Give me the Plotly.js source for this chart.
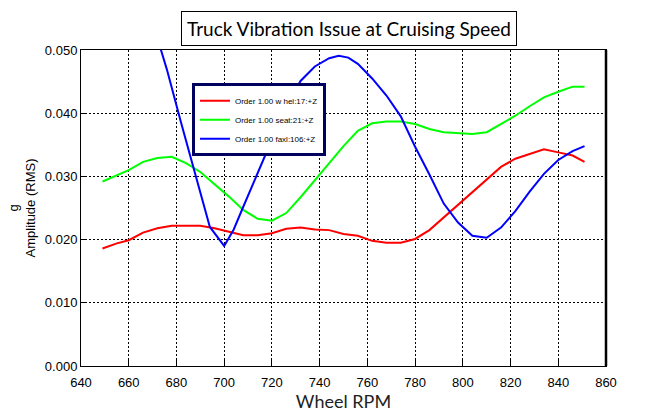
<!DOCTYPE html>
<html>
<head>
<meta charset="utf-8">
<script src="https://cdn.plot.ly/plotly-3.0.1.min.js"></script>
<style>html,body{margin:0;padding:0;background:#fff;}#chart{width:670px;height:420px;}</style>
</head>
<body>
<div id="chart"></div>
<script>
// Wheel RPM sample points
var rpm = [649, 655, 660, 666, 672, 678, 684, 690, 696, 702, 708, 714, 720, 726, 732, 738, 744, 750,
           756, 762, 768, 774, 780, 786, 792, 798, 804, 810, 816, 822, 828, 834, 840, 846, 851];
// Order 1.00 wheel:17:+Z  (g RMS)
var wheel = [0.0186, 0.0194, 0.0199, 0.0211, 0.0218, 0.0222, 0.0222, 0.0222, 0.0218, 0.0213, 0.0207, 0.0207,
             0.0210, 0.0217, 0.0219, 0.0216, 0.0215, 0.0209, 0.0206, 0.0198, 0.0195, 0.0195, 0.0201, 0.0215,
             0.0235, 0.0256, 0.0275, 0.0295, 0.0315, 0.0328, 0.0336, 0.0343, 0.0338, 0.0333, 0.0323];
// Order 1.00 seat:21:+Z
var seat = [0.0292, 0.0302, 0.0310, 0.0323, 0.0329, 0.0331, 0.0321, 0.0307, 0.0288, 0.0268, 0.0247, 0.0233,
            0.0230, 0.0242, 0.0267, 0.0294, 0.0320, 0.0348, 0.0372, 0.0384, 0.0387, 0.0387, 0.0383, 0.0375,
            0.0370, 0.0368, 0.0367, 0.0370, 0.0383, 0.0396, 0.0411, 0.0425, 0.0434, 0.0442, 0.0442];
// Order 1.00 faxl:106:+Z
var axleRpm = [670, 676, 682, 688, 694, 700, 704, 708, 714, 720, 726, 732, 738, 744, 748, 752, 756, 762, 768,
               774, 780, 786, 792, 798, 804, 810, 816, 822, 828, 834, 840, 846, 851];
var axle = [0.0544, 0.0469, 0.0384, 0.0302, 0.0220, 0.0190, 0.0216, 0.0252, 0.0306, 0.0359, 0.0411, 0.0451,
            0.0474, 0.0487, 0.0491, 0.0488, 0.0478, 0.0455, 0.0428, 0.0395, 0.0347, 0.0303, 0.0257, 0.0227, 0.0206,
            0.0203, 0.0219, 0.0245, 0.0276, 0.0304, 0.0326, 0.0340, 0.0348];
var seriesNames = ['Order 1.00 w hel:17:+Z', 'Order 1.00 seat:21:+Z', 'Order 1.00 faxl:106:+Z'];
var xTicks = [640, 660, 680, 700, 720, 740, 760, 780, 800, 820, 840, 860];
var yTicks = [0.000, 0.010, 0.020, 0.030, 0.040, 0.050];

var tickFont = {family: 'Liberation Sans, Arial, sans-serif', size: 13, color: '#000'};
var traces = [
  {x: rpm, y: wheel, name: seriesNames[0], mode: 'lines', line: {color: '#ff0000', width: 2}},
  {x: rpm, y: seat, name: seriesNames[1], mode: 'lines', line: {color: '#00ff00', width: 2}},
  {x: axleRpm, y: axle, name: seriesNames[2], mode: 'lines', line: {color: '#0000ff', width: 2}}
];
var layout = {
  width: 670, height: 420,
  margin: {l: 81, r: 64, t: 50, b: 54},
  paper_bgcolor: '#fff', plot_bgcolor: '#fff',
  showlegend: true,
  legend: {
    x: 0.2114, y: 0.895, xanchor: 'left', yanchor: 'top',
    bgcolor: '#fff', bordercolor: '#000060', borderwidth: 3,
    font: {family: 'Liberation Sans, Arial, sans-serif', size: 8, color: '#000'},
    itemwidth: 30, tracegroupgap: 0
  },
  xaxis: {
    range: [640, 860], tickvals: xTicks, ticktext: xTicks.map(String),
    ticks: 'inside', ticklen: 6, tickcolor: '#000', tickwidth: 1,
    showline: true, linecolor: '#000', linewidth: 1, mirror: true,
    showgrid: true, gridcolor: '#000', gridwidth: 1, griddash: '2px,2px',
    zeroline: false, tickfont: tickFont, ticklabelstandoff: 4,
    title: {text: 'Wheel RPM', font: {family: 'Lato, Open Sans, sans-serif', size: 18, color: '#222'}, standoff: 4}
  },
  yaxis: {
    range: [0, 0.050], tickvals: yTicks, tickformat: '.3f',
    ticks: 'inside', ticklen: 6, tickcolor: '#000', tickwidth: 1,
    showline: true, linecolor: '#000', linewidth: 1, mirror: true,
    showgrid: true, gridcolor: '#000', gridwidth: 1, griddash: '2px,2px',
    zeroline: false, tickfont: tickFont,
    title: {text: 'g<br>Amplitude (RMS)', font: {family: 'Liberation Sans, Arial, sans-serif', size: 13, color: '#000'}, standoff: 6}
  },
  shapes: [{type: 'line', xref: 'paper', yref: 'paper', x0: 1, x1: 1, y0: 0, y1: 1,
            line: {color: '#000', width: 2.5}}],
  annotations: [{
    xref: 'paper', yref: 'paper', x: 0.5105, y: 1.0696, xanchor: 'center', yanchor: 'middle',
    text: 'Truck Vibration Issue at Cruising Speed', showarrow: false,
    font: {family: 'Lato, Open Sans, sans-serif', size: 19, color: '#000'},
    bordercolor: '#000', borderwidth: 1, borderpad: 5, bgcolor: '#fff'
  }]
};
Plotly.newPlot('chart', traces, layout, {displayModeBar: false, staticPlot: true});
</script>
</body>
</html>
